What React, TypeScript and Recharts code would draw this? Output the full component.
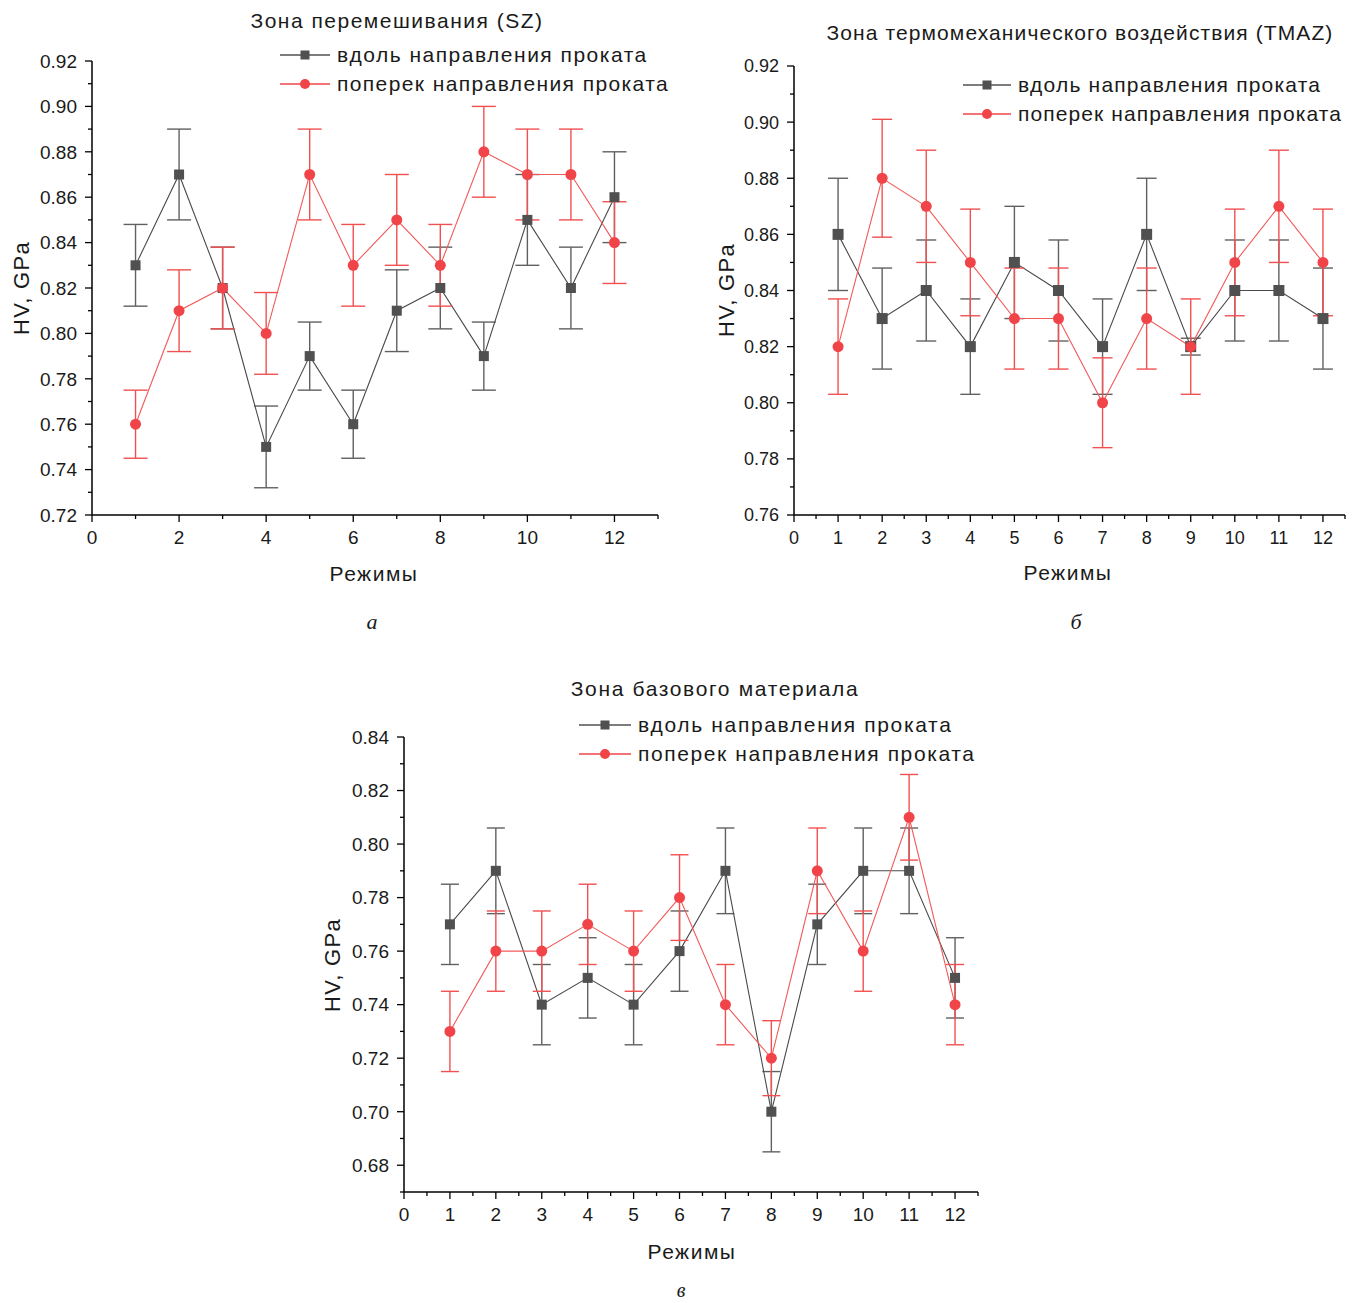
import { ErrorBar, Line, LineChart, XAxis, YAxis } from "recharts";

const FONT = '"Liberation Sans", Arial, sans-serif';
const GRAY = "#505050";
const RED = "#f04448";

const modes = [1, 2, 3, 4, 5, 6, 7, 8, 9, 10, 11, 12];

// Zone SZ
const szAlong = [0.83, 0.87, 0.82, 0.75, 0.79, 0.76, 0.81, 0.82, 0.79, 0.85, 0.82, 0.86];
const szAlongErr = [0.018, 0.02, 0.018, 0.018, 0.015, 0.015, 0.018, 0.018, 0.015, 0.02, 0.018, 0.02];
const szAcross = [0.76, 0.81, 0.82, 0.8, 0.87, 0.83, 0.85, 0.83, 0.88, 0.87, 0.87, 0.84];
const szAcrossErr = [0.015, 0.018, 0.018, 0.018, 0.02, 0.018, 0.02, 0.018, 0.02, 0.02, 0.02, 0.018];

// Zone TMAZ
const tmAlong = [0.86, 0.83, 0.84, 0.82, 0.85, 0.84, 0.82, 0.86, 0.82, 0.84, 0.84, 0.83];
const tmAlongErr = [0.02, 0.018, 0.018, 0.017, 0.02, 0.018, 0.017, 0.02, 0.003, 0.018, 0.018, 0.018];
const tmAcross = [0.82, 0.88, 0.87, 0.85, 0.83, 0.83, 0.8, 0.83, 0.82, 0.85, 0.87, 0.85];
const tmAcrossErr = [0.017, 0.021, 0.02, 0.019, 0.018, 0.018, 0.016, 0.018, 0.017, 0.019, 0.02, 0.019];

// Base material
const bmAlong = [0.77, 0.79, 0.74, 0.75, 0.74, 0.76, 0.79, 0.7, 0.77, 0.79, 0.79, 0.75];
const bmAlongErr = [0.015, 0.016, 0.015, 0.015, 0.015, 0.015, 0.016, 0.015, 0.015, 0.016, 0.016, 0.015];
const bmAcross = [0.73, 0.76, 0.76, 0.77, 0.76, 0.78, 0.74, 0.72, 0.79, 0.76, 0.81, 0.74];
const bmAcrossErr = [0.015, 0.015, 0.015, 0.015, 0.015, 0.016, 0.015, 0.014, 0.016, 0.015, 0.016, 0.015];

// ticks
const szYMajor = [0.72, 0.74, 0.76, 0.78, 0.8, 0.82, 0.84, 0.86, 0.88, 0.9, 0.92];
const szYAll = [0.72, 0.73, 0.74, 0.75, 0.76, 0.77, 0.78, 0.79, 0.8, 0.81, 0.82, 0.83, 0.84, 0.85, 0.86, 0.87, 0.88, 0.89, 0.9, 0.91, 0.92];
const szXMajor = [0, 2, 4, 6, 8, 10, 12];
const szXAll = [0, 1, 2, 3, 4, 5, 6, 7, 8, 9, 10, 11, 12, 13];

const tmYMajor = [0.76, 0.78, 0.8, 0.82, 0.84, 0.86, 0.88, 0.9, 0.92];
const tmYAll = [0.76, 0.77, 0.78, 0.79, 0.8, 0.81, 0.82, 0.83, 0.84, 0.85, 0.86, 0.87, 0.88, 0.89, 0.9, 0.91, 0.92];
const xMajor12 = [0, 1, 2, 3, 4, 5, 6, 7, 8, 9, 10, 11, 12];
const xAllHalf = [0, 0.5, 1, 1.5, 2, 2.5, 3, 3.5, 4, 4.5, 5, 5.5, 6, 6.5, 7, 7.5, 8, 8.5, 9, 9.5, 10, 10.5, 11, 11.5, 12, 12.5];

const bmYMajor = [0.68, 0.7, 0.72, 0.74, 0.76, 0.78, 0.8, 0.82, 0.84];
const bmYAll = [0.67, 0.68, 0.69, 0.7, 0.71, 0.72, 0.73, 0.74, 0.75, 0.76, 0.77, 0.78, 0.79, 0.8, 0.81, 0.82, 0.83, 0.84];

const buildRows = (along: number[], alongErr: number[], across: number[], acrossErr: number[]) =>
  modes.map((m, i) => ({
    x: m,
    along: along[i],
    alongErr: alongErr[i],
    across: across[i],
    acrossErr: acrossErr[i],
  }));

const isIn = (list: number[], v: number) => list.some((m) => Math.abs(m - v) < 1e-6);

function Text({ x, y, size = 21, ls = 0, children, rotate = false, italic = false, serif = false }: any) {
  return (
    <div
      style={{
        position: "absolute",
        left: x,
        top: y,
        transform: `translate(-50%, -50%)${rotate ? " rotate(-90deg)" : ""}`,
        fontFamily: serif ? '"Liberation Serif", "DejaVu Serif", serif' : FONT,
        fontStyle: italic ? "italic" : "normal",
        fontSize: size,
        letterSpacing: ls,
        lineHeight: 1,
        whiteSpace: "nowrap",
        color: "#1a1a1a",
      }}
    >
      {children}
    </div>
  );
}

function LegendRow({ x, y, kind, label, lineW, ls }: any) {
  const color = kind === "square" ? GRAY : RED;
  return (
    <div style={{ position: "absolute", left: x, top: y - 13, height: 26, display: "flex", alignItems: "center", whiteSpace: "nowrap" }}>
      <svg width={lineW} height={14} style={{ marginRight: 7 }}>
        <line x1={0} x2={lineW} y1={7} y2={7} stroke={color} strokeWidth={1.3} />
        {kind === "square" ? (
          <rect x={lineW / 2 - 4.5} y={2.5} width={9} height={9} fill={color} />
        ) : (
          <circle cx={lineW / 2} cy={7} r={5} fill={color} />
        )}
      </svg>
      <span style={{ fontFamily: FONT, fontSize: 21, letterSpacing: ls, color: "#1a1a1a" }}>{label}</span>
    </div>
  );
}

function Panel({ plot, xDomain, xMajor, xAll, yDomain, yMajor, yAll, rows, fontSize, cap, sq, r }: any) {
  const [x0, y0, x1, y1] = plot;
  const left = x0 - 80;
  const top = y0 - 20;
  const width = x1 - left + 20;
  const height = y1 - top + 60;

  const YTick = (p: any) => {
    const major = isIn(yMajor, p.payload.value);
    return (
      <g>
        <line x1={p.x} x2={p.x - (major ? 7 : 4)} y1={p.y} y2={p.y} stroke="#000" strokeWidth={1.3} />
        {major && (
          <text x={p.x - 15} y={p.y} dy="0.36em" textAnchor="end" fontFamily={FONT} fontSize={fontSize} fill="#1a1a1a">
            {p.payload.value.toFixed(2)}
          </text>
        )}
      </g>
    );
  };
  const XTick = (p: any) => {
    const major = isIn(xMajor, p.payload.value);
    return (
      <g>
        <line x1={p.x} x2={p.x} y1={p.y} y2={p.y + (major ? 7 : 4)} stroke="#000" strokeWidth={1.3} />
        {major && (
          <text x={p.x} y={p.y + 29} textAnchor="middle" fontFamily={FONT} fontSize={fontSize} fill="#1a1a1a">
            {p.payload.value}
          </text>
        )}
      </g>
    );
  };
  const SquareDot = (p: any) => (
    <rect key={`s${p.index}`} x={p.cx - sq / 2} y={p.cy - sq / 2} width={sq} height={sq} fill={GRAY} />
  );
  const CircleDot = (p: any) => <circle key={`c${p.index}`} cx={p.cx} cy={p.cy} r={r} fill={RED} />;

  return (
    <div style={{ position: "absolute", left, top }}>
      <LineChart width={width} height={height} data={rows} margin={{ top: 20, right: 20, bottom: 20, left: 20 }}>
        <XAxis
          type="number"
          dataKey="x"
          domain={xDomain}
          ticks={xAll}
          interval={0}
          height={40}
          tickSize={0}
          tickMargin={0}
          tickLine={false}
          tick={XTick}
          axisLine={{ stroke: "#000", strokeWidth: 1.5 }}
          allowDataOverflow
        />
        <YAxis
          type="number"
          domain={yDomain}
          ticks={yAll}
          interval={0}
          width={60}
          tickSize={0}
          tickMargin={0}
          tickLine={false}
          tick={YTick}
          axisLine={{ stroke: "#000", strokeWidth: 1.5 }}
          allowDataOverflow
        />
        <Line
          dataKey="along"
          stroke="#4a4a4a"
          strokeWidth={1.1}
          dot={SquareDot}
          activeDot={false}
          isAnimationActive={false}
        >
          <ErrorBar dataKey="alongErr" direction="y" width={cap} stroke="#606060" strokeWidth={1.4} />
        </Line>
        <Line
          dataKey="across"
          stroke="#f25a5a"
          strokeWidth={1.1}
          dot={CircleDot}
          activeDot={false}
          isAnimationActive={false}
        >
          <ErrorBar dataKey="acrossErr" direction="y" width={cap} stroke="#f25050" strokeWidth={1.4} />
        </Line>
      </LineChart>
    </div>
  );
}

export default function App() {
  return (
    <div style={{ position: "absolute", left: 0, top: 0, width: 1357, height: 1303, background: "#fff", overflow: "hidden" }}>
      {/* а — SZ */}
      <Panel
        plot={[92, 61, 658, 515]}
        xDomain={[0, 13]}
        xMajor={szXMajor}
        xAll={szXAll}
        yDomain={[0.72, 0.92]}
        yMajor={szYMajor}
        yAll={szYAll}
        rows={buildRows(szAlong, szAlongErr, szAcross, szAcrossErr)}
        fontSize={19}
        cap={12}
        sq={10}
        r={5.5}
      />
      <Text x={397} y={20} ls={1.5}>Зона перемешивания (SZ)</Text>
      <LegendRow x={280} y={55} kind="square" label="вдоль направления проката" lineW={50} ls={1.5} />
      <LegendRow x={280} y={84} kind="circle" label="поперек направления проката" lineW={50} ls={1.4} />
      <Text x={22} y={288} size={22} ls={1.3} rotate>HV, GPa</Text>
      <Text x={374} y={573} ls={1.5}>Режимы</Text>
      <Text x={372} y={622} size={22} italic serif>а</Text>

      {/* б — TMAZ */}
      <Panel
        plot={[794, 66, 1345, 515]}
        xDomain={[0, 12.5]}
        xMajor={xMajor12}
        xAll={xAllHalf}
        yDomain={[0.76, 0.92]}
        yMajor={tmYMajor}
        yAll={tmYAll}
        rows={buildRows(tmAlong, tmAlongErr, tmAcross, tmAcrossErr)}
        fontSize={18}
        cap={10}
        sq={11}
        r={5.5}
      />
      <Text x={1080} y={32} ls={1.1}>Зона термомеханического воздействия (TMAZ)</Text>
      <LegendRow x={963} y={85} kind="square" label="вдоль направления проката" lineW={48} ls={1.2} />
      <LegendRow x={963} y={114} kind="circle" label="поперек направления проката" lineW={48} ls={1.1} />
      <Text x={727} y={290} size={22} ls={1.3} rotate>HV, GPa</Text>
      <Text x={1068} y={572} ls={1.5}>Режимы</Text>
      <Text x={1076} y={622} size={22} italic serif>б</Text>

      {/* в — base material */}
      <Panel
        plot={[404, 737, 978, 1192]}
        xDomain={[0, 12.5]}
        xMajor={xMajor12}
        xAll={xAllHalf}
        yDomain={[0.67, 0.84]}
        yMajor={bmYMajor}
        yAll={bmYAll}
        rows={buildRows(bmAlong, bmAlongErr, bmAcross, bmAcrossErr)}
        fontSize={19}
        cap={9}
        sq={10}
        r={5.5}
      />
      <Text x={715} y={688} ls={1.65}>Зона базового материала</Text>
      <LegendRow x={579} y={725} kind="square" label="вдоль направления проката" lineW={52} ls={1.65} />
      <LegendRow x={579} y={754} kind="circle" label="поперек направления проката" lineW={52} ls={1.6} />
      <Text x={333} y={965} size={22} ls={1.3} rotate>HV, GPa</Text>
      <Text x={692} y={1251} ls={1.5}>Режимы</Text>
      <Text x={681} y={1290} size={20} italic serif>в</Text>
    </div>
  );
}
